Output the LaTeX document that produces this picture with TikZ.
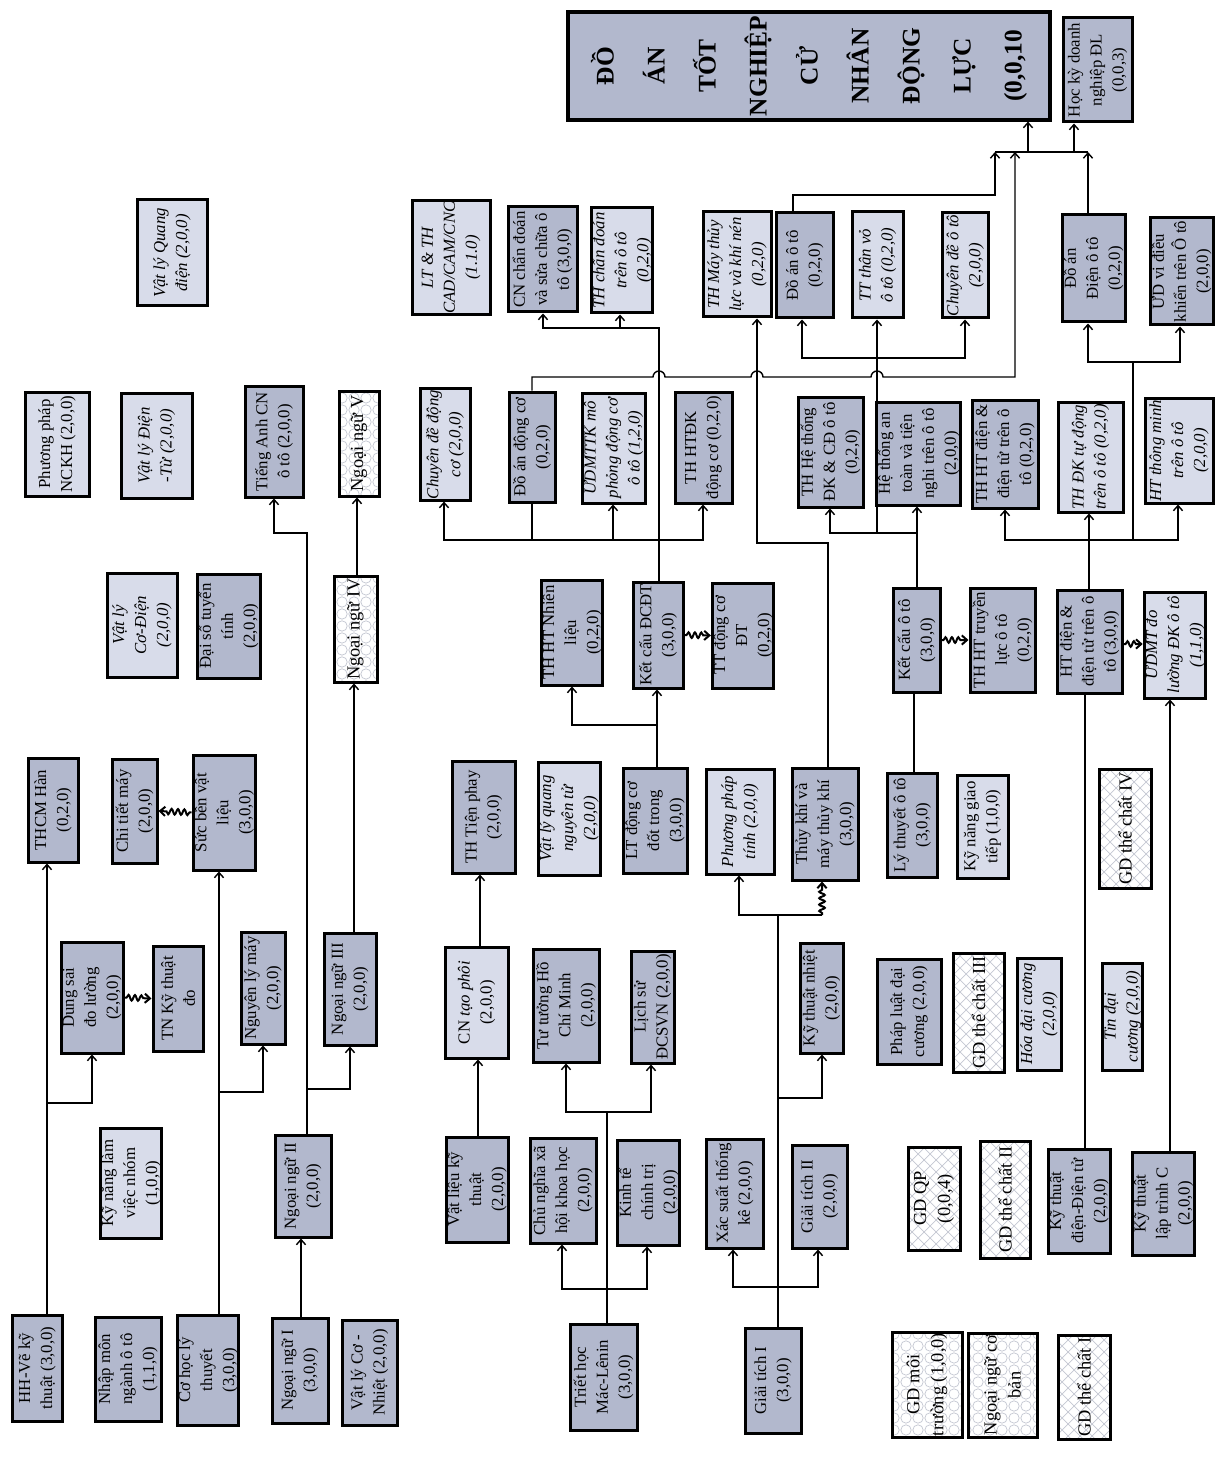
\documentclass[tikz,border=0pt]{standalone}
\usepackage{fontspec}
\setmainfont{Liberation Serif}
\usetikzlibrary{arrows.meta,decorations.pathmorphing,patterns}
\definecolor{boxdark}{RGB}{178,184,205}
\definecolor{boxlight}{RGB}{216,220,234}
\definecolor{patcol}{RGB}{196,199,210}
\pgfdeclarepatternformonly{diamondgrid}{\pgfqpoint{-0.5pt}{-0.5pt}}{\pgfqpoint{6.5pt}{6.5pt}}{\pgfqpoint{6pt}{6pt}}{%
 \pgfsetlinewidth{0.35pt}\pgfpathmoveto{\pgfqpoint{0pt}{0pt}}\pgfpathlineto{\pgfqpoint{6pt}{6pt}}\pgfpathmoveto{\pgfqpoint{0pt}{6pt}}\pgfpathlineto{\pgfqpoint{6pt}{0pt}}\pgfusepath{stroke}}
\pgfdeclarepatternformonly{ringgrid}{\pgfqpoint{-0.5pt}{-0.5pt}}{\pgfqpoint{6.5pt}{6.5pt}}{\pgfqpoint{6pt}{6pt}}{%
 \pgfsetlinewidth{0.35pt}\pgfpathcircle{\pgfqpoint{3pt}{3pt}}{2.6pt}\pgfusepath{stroke}}
\newcommand\crsbox[7]{%
  \pgfmathsetmacro\crsW{(#5-#3)*0.5}%
  \pgfmathsetmacro\crsH{(#4-#2)*0.5}%
  \node[#6, minimum width=\crsW pt, minimum height=\crsH pt] (#1) at ({(#2+#4)/2},{(#3+#5)/2}) {#7};}
\tikzset{
 bx/.style={draw, line width=1.5pt, rotate=90, align=center, inner sep=0.5pt, font=\fontsize{8.4}{11}\selectfont},
 dk/.style={bx, fill=boxdark},
 lt/.style={bx, fill=boxlight, font=\fontsize{8.4}{11}\selectfont\itshape},
 ltn/.style={bx, fill=boxlight},
 pd/.style={bx, preaction={fill=white}, pattern=diamondgrid, pattern color=patcol, font=\fontsize{9.2}{12}\selectfont},
 pr/.style={bx, preaction={fill=white}, pattern=ringgrid, pattern color=patcol, font=\fontsize{9.2}{12}\selectfont},
 ttl/.style={bx, fill=boxdark, line width=1.6pt, font=\fontsize{12.7}{25.5}\selectfont\bfseries},
 ln/.style={line width=0.7pt},
 arr/.style={ln, -{Straight Barb[length=2.6pt,width=4.6pt]}},
 sq/.style={line width=1pt, -{Straight Barb[length=2.6pt,width=4.6pt]}, decorate, decoration={snake, amplitude=1.4pt, segment length=3.2pt, pre length=1pt, post length=3pt}},
}
\begin{document}
\begin{tikzpicture}[x=0.5pt,y=-0.5pt]
\path[use as bounding box, fill=white] (0,0) rectangle (1223,1460);
% ---- row 1
\crsbox{t}{568}{12}{1050}{120}{ttl}{ĐỒ\\ÁN\\TỐT\\NGHIỆP\\CỬ\\NHÂN\\ĐỘNG\\LỰC\\(0,0,10}
\crsbox{hk}{1063}{18}{1132}{122}{dk}{Học kỳ doanh\\nghiệp ĐL\\(0,0,3)}
\crsbox{vlqd}{137}{200}{207}{306}{lt}{Vật lý Quang\\điện (2,0,0)}
\crsbox{cad}{412}{205}{490}{310}{lt}{LT \& TH\\CAD/CAM/CNC\\(1.1.0)}
\crsbox{cncd}{508}{207}{577}{312}{dk}{CN chẩn đoán\\và sửa chữa ô\\tô (3,0,0)}
\crsbox{thcd}{592}{208}{652}{313}{lt}{TH chẩn đoán\\trên ô tô\\(0,2,0)}
\crsbox{thmtl}{703}{212}{771}{317}{lt}{TH Máy thủy\\lực và khí nén\\(0,2,0)}
\crsbox{daoto}{776}{213}{833}{318}{dk}{Đồ án ô tô\\(0,2,0)}
\crsbox{ttvo}{852}{212}{903}{318}{lt}{TT thân vỏ\\ô tô (0,2,0)}
\crsbox{cdoto}{942}{213}{988}{318}{lt}{Chuyên đề ô tô\\(2,0,0)}
\crsbox{dadien}{1062}{215}{1125}{322}{dk}{Đồ án\\Điện ô tô\\(0,2,0)}
\crsbox{udvdk}{1150}{218}{1213}{325}{dk}{ƯD vi điều\\khiển trên Ô tô\\(2,0,0)}
% ---- row 2
\crsbox{nckh}{25}{392}{89}{496}{ltn}{Phương pháp\\NCKH (2,0,0)}
\crsbox{vldt}{121}{393}{192}{498}{lt}{Vật lý Điện\\-Từ (2,0,0)}
\crsbox{tacn}{245}{386}{303}{497}{dk}{Tiếng Anh CN\\ô tô (2,0,0)}
\crsbox{nn5}{339}{391}{379}{496}{pr}{Ngoại ngữ V}
\crsbox{cddc}{420}{389}{470}{500}{lt}{Chuyên đề động\\cơ (2,0,0)}
\crsbox{dadc}{509}{392}{555}{502}{dk}{Đồ án động cơ\\(0,2,0)}
\crsbox{udmttk}{582}{393}{645}{503}{lt}{ƯDMTTK mô\\phỏng động cơ\\ô tô (1,2,0)}
\crsbox{thhtdk}{675}{392}{732}{503}{dk}{TH HTĐK\\động cơ (0,2,0)}
\crsbox{thhtdkcd}{798}{397}{863}{507}{dk}{TH Hệ thống\\ĐK \& CĐ ô tô\\(0,2,0)}
\crsbox{htat}{880}{402}{957}{505}{dk}{Hệ thống an\\toàn và tiện\\nghi trên ô tô\\(2,0,0)}
\crsbox{thhtdien}{972}{400}{1038}{508}{dk}{TH HT điện \&\\điện tử trên ô\\tô (0,2,0)}
\crsbox{thdktd}{1058}{402}{1123}{512}{lt}{TH ĐK tự động\\trên ô tô (0,2,0)}
\crsbox{httm}{1145}{398}{1213}{503}{lt}{HT thông minh\\trên ô tô\\(2,0,0)}
% ---- row 3
\crsbox{vlcd}{107}{573}{177}{677}{lt}{Vật lý\\Cơ-Điện\\(2,0,0)}
\crsbox{dstt}{197}{574}{260}{678}{dk}{Đại số tuyến\\tính\\(2,0,0)}
\crsbox{nn4}{334}{576}{377}{682}{pr}{Ngoại ngữ IV}
\crsbox{thnl}{542}{580}{602}{685}{dk}{TH HT Nhiên\\liệu\\(0,2,0)}
\crsbox{kcdc}{633}{582}{683}{688}{dk}{Kết cấu ĐCĐT\\(3,0,0)}
\crsbox{ttdc}{713}{583}{773}{688}{dk}{TT động cơ\\ĐT\\(0,2,0)}
\crsbox{kcoto}{893}{588}{940}{692}{dk}{Kết cấu ô tô\\(3,0,0)}
\crsbox{thtl}{970}{588}{1035}{692}{dk}{TH HT truyền\\lực ô tô\\(0,2,0)}
\crsbox{htdien}{1057}{590}{1122}{693}{dk}{HT điện \&\\điện tử trên ô\\tô (3,0,0)}
\crsbox{udmt}{1145}{592}{1205}{698}{lt}{ƯDMT đo\\lường ĐK ô tô\\(1,1,0)}
% ---- row 4
\crsbox{thcm}{28}{758}{78}{862}{dk}{THCM Hàn\\(0,2,0)}
\crsbox{ctm}{112}{759}{157}{863}{dk}{Chi tiết máy\\(2,0,0)}
\crsbox{sbvl}{193}{755}{255}{870}{dk}{Sức bền vật\\liệu\\(3,0,0)}
\crsbox{thtp}{452}{761}{515}{873}{dk}{TH Tiện phay\\(2,0,0)}
\crsbox{vlqnt}{538}{762}{600}{875}{lt}{Vật lý quang\\nguyên tử\\(2,0,0)}
\crsbox{ltdc}{623}{768}{687}{873}{dk}{LT động cơ\\đốt trong\\(3,0,0)}
\crsbox{ppt}{706}{769}{774}{874}{lt}{Phương pháp\\tính (2,0,0)}
\crsbox{tk}{792}{768}{858}{880}{dk}{Thủy khí và\\máy thủy khí\\(3,0,0)}
\crsbox{ltoto}{887}{773}{937}{877}{dk}{Lý thuyết ô tô\\(3,0,0)}
\crsbox{knggt}{957}{775}{1008}{878}{ltn}{Kỹ năng giao\\tiếp (1,0,0)}
\crsbox{gdtc4}{1099}{769}{1151}{888}{pd}{GD thể chất IV}
% ---- row 5
\crsbox{ds}{61}{942}{123}{1053}{dk}{Dung sai\\đo lường\\(2,0,0)}
\crsbox{tnkt}{153}{946}{203}{1051}{dk}{TN Kỹ thuật\\đo}
\crsbox{nlm}{241}{932}{285}{1044}{dk}{Nguyên lý máy\\(2,0,0)}
\crsbox{nn3}{324}{933}{376}{1045}{dk}{Ngoại ngữ III\\(2,0,0)}
\crsbox{cntp}{445}{947}{508}{1058}{ltn}{CN \textit{tạo phôi}\\(2,0,0)}
\crsbox{tthcm}{533}{949}{599}{1062}{dk}{Tư tưởng Hồ\\Chí Minh\\(2,0,0)}
\crsbox{ls}{631}{951}{674}{1063}{dk}{Lịch sử\\ĐCSVN (2,0,0)}
\crsbox{ktn}{800}{943}{843}{1053}{dk}{Kỹ thuật nhiệt\\(2,0,0)}
\crsbox{pldc}{877}{959}{941}{1064}{dk}{Pháp luật đại\\cương (2,0,0)}
\crsbox{gdtc3}{953}{953}{1004}{1072}{pd}{GD thể chất III}
\crsbox{hdc}{1017}{958}{1061}{1070}{lt}{Hóa đại cương\\(2,0,0)}
\crsbox{tdc}{1103}{963}{1142}{1070}{lt}{Tin đại\\cương (2,0,0)}
% ---- row 6
\crsbox{knlv}{103}{1128}{159}{1238}{ltn}{Kỹ năng làm\\việc nhóm\\(1,0,0)}
\crsbox{nn2}{275}{1135}{331}{1237}{dk}{Ngoại ngữ II\\(2,0,0)}
\crsbox{vlkt}{446}{1137}{508}{1242}{dk}{Vật liệu kỹ\\thuật\\(2,0,0)}
\crsbox{cnxh}{530}{1138}{596}{1243}{dk}{Chủ nghĩa xã\\hội khoa học\\(2,0,0)}
\crsbox{ktct}{619}{1140}{678}{1245}{dk}{Kinh tế\\chính trị\\(2,0,0)}
\crsbox{xstk}{706}{1139}{763}{1248}{dk}{Xác suất thống\\kê (2,0,0)}
\crsbox{gt2}{792}{1145}{847}{1248}{dk}{Giải tích II\\(2,0,0)}
\crsbox{gdqp}{908}{1147}{960}{1250}{pd}{GD QP\\(0,0,4)}
\crsbox{gdtc2}{980}{1141}{1030}{1258}{pd}{GD thể chất II}
\crsbox{ktdien}{1048}{1149}{1110}{1253}{dk}{Kỹ thuật\\điện-Điện tử\\(2,0,0)}
\crsbox{ktlt}{1133}{1152}{1194}{1255}{dk}{Kỹ thuật\\lập trình C\\(2,0,0)}
% ---- row 7
\crsbox{hh}{12}{1315}{62}{1421}{dk}{HH-Vẽ kỹ\\thuật (3,0,0)}
\crsbox{nmoto}{95}{1317}{161}{1421}{dk}{Nhập môn\\ngành ô tô\\(1,1,0)}
\crsbox{chlt}{179}{1315}{237}{1425}{dk}{Cơ học lý\\thuyết\\(3,0,0)}
\crsbox{nn1}{272}{1318}{328}{1423}{dk}{Ngoại ngữ I\\(3,0,0)}
\crsbox{vlcn}{342}{1320}{397}{1425}{dk}{Vật lý Cơ -\\Nhiệt (2,0,0)}
\crsbox{triet}{570}{1324}{637}{1430}{dk}{Triết học\\Mác-Lênin\\(3,0,0)}
\crsbox{gt1}{745}{1328}{801}{1433}{dk}{Giải tích I\\(3,0,0)}
\crsbox{gdmt}{892}{1332}{962}{1437}{pr}{GD môi\\trường (1,0,0)}
\crsbox{nncb}{968}{1333}{1037}{1437}{pr}{Ngoại ngữ cơ\\bản}
\crsbox{gdtc1}{1058}{1335}{1110}{1439}{pd}{GD thể chất I}
% ================= connectors
% left block
\draw[arr] (hh.east -| 47,0) -- (thcm.west -| 47,0);
\draw[arr] (hh.east -| 47,0) |- (92,1103) -- (ds.west -| 92,0);
\draw[arr] (chlt.east -| 219,0) -- (sbvl.west -| 219,0);
\draw[arr] (chlt.east -| 219,0) |- (263,1092) -- (nlm.west -| 263,0);
\draw[sq] (sbvl.north) -- (ctm.south);
\draw[sq] (ds.south) -- (tnkt.north);
\draw[arr] (nn1.east -| 301,0) -- (nn2.west -| 301,0);
\draw[arr] (nn2.east -| 307,0) |- (350,1089) -- (nn3.west -| 350,0);
\draw[arr] (nn2.east -| 307,0) -- (307,533) -| (tacn.west -| 274,0);
\draw[arr] (nn3.east -| 354,0) -- (nn4.west -| 354,0);
\draw[arr] (nn4.east -| 357,0) -- (nn5.west -| 357,0);
% middle block
\draw[arr] (vlkt.east -| 478,0) -- (cntp.west -| 478,0);
\draw[arr] (cntp.east -| 480,0) -- (thtp.west -| 480,0);
\draw[arr] (triet.east -| 607,0) |- (566,1112) -- (tthcm.west -| 566,0);
\draw[arr] (triet.east -| 607,0) |- (651,1112) -- (ls.west -| 651,0);
\draw[arr] (triet.east -| 607,0) |- (562,1289) -- (cnxh.west -| 562,0);
\draw[arr] (triet.east -| 607,0) |- (647,1289) -- (ktct.west -| 647,0);
\draw[arr] (gt1.east -| 778,0) |- (733,1287) -- (xstk.west -| 733,0);
\draw[arr] (gt1.east -| 778,0) |- (818,1287) -- (gt2.west -| 818,0);
\draw[arr] (gt1.east -| 778,0) |- (822,1098) -- (ktn.west -| 822,0);
\draw[arr] (gt1.east -| 778,0) |- (739,915) -- (ppt.west -| 739,0);
\draw[ln] (gt1.east -| 778,0) |- (822,915);
\draw[sq] (822,915) -- (tk.west -| 822,0);
\draw[arr] (ltdc.east -| 657,0) -- (kcdc.west -| 657,0);
\draw[arr] (ltdc.east -| 657,0) |- (572,725) -- (thnl.west -| 572,0);
\draw[sq] (kcdc.south) -- (ttdc.north);
\draw[arr] (kcdc.east -| 659,0) |- (543,328) -- (cncd.west -| 543,0);
\draw[arr] (kcdc.east -| 659,0) |- (620,328) -- (thcd.west -| 620,0);
\draw[arr] (kcdc.east -| 659,0) |- (444,540) -- (cddc.west -| 444,0);
\draw[arr] (kcdc.east -| 659,0) |- (613,540) -- (udmttk.west -| 613,0);
\draw[arr] (kcdc.east -| 659,0) |- (703,540) -- (thhtdk.west -| 703,0);
\draw[ln] (kcdc.east -| 659,0) |- (532,540) -- (dadc.west -| 532,0);
% final project bus
\coordinate (tin) at (1028,152);
\coordinate (hin) at (1074,152);
\draw[ln] (995,152) -- (1088,152);
\draw[arr] (tin) -- (t.west -| tin);
\draw[arr] (hin) -- (hk.west -| hin);
\draw[arr] (dadc.east -| 532,0) -- (532,377) -- (653,377) arc[start angle=180,end angle=0,radius=3pt] -- (751,377) arc[start angle=180,end angle=0,radius=3pt] -- (871,377) arc[start angle=180,end angle=0,radius=3pt] -- (1015,377) -- (1015,152);
\draw[arr] (daoto.east -| 793,0) |- (995,195) -- (995,152);
\draw[arr] (dadien.east -| 1088,0) -- (1088,152);
\draw[arr] (tk.east -| 828,0) |- (757,543) -- (thmtl.west -| 757,0);
% car structure block
\draw[ln] (ltoto.east -| 914,0) -- (kcoto.west -| 914,0);
\draw[arr] (kcoto.east -| 917,0) -- (htat.west -| 917,0);
\draw[arr] (kcoto.east -| 917,0) |- (830,533) -- (thhtdkcd.west -| 830,0);
\draw[arr] (kcoto.east -| 917,0) |- (877,533) -- (ttvo.west -| 877,0);
\draw[arr] (kcoto.east -| 917,0) |- (877,533) |- (802,358) -- (daoto.west -| 802,0);
\draw[arr] (kcoto.east -| 917,0) |- (877,533) |- (965,358) -- (cdoto.west -| 965,0);
\draw[sq] (kcoto.south) -- (thtl.north);
% electrical block
\draw[ln] (ktdien.east -| 1085,0) -- (htdien.west -| 1085,0);
\draw[arr] (ktlt.east -| 1170,0) -- (udmt.west -| 1170,0);
\draw[sq] (htdien.south |- 0,644) -- (udmt.north |- 0,644);
\draw[arr] (htdien.east -| 1089,0) -- (thdktd.west -| 1089,0);
\draw[arr] (htdien.east -| 1089,0) |- (1005,540) -- (thhtdien.west -| 1005,0);
\draw[arr] (htdien.east -| 1089,0) |- (1178,540) -- (httm.west -| 1178,0);
\draw[arr] (htdien.east -| 1089,0) |- (1133,540) |- (1088,362) -- (dadien.west -| 1088,0);
\draw[arr] (htdien.east -| 1089,0) |- (1133,540) |- (1180,362) -- (udvdk.west -| 1180,0);
\end{tikzpicture}
\end{document}
